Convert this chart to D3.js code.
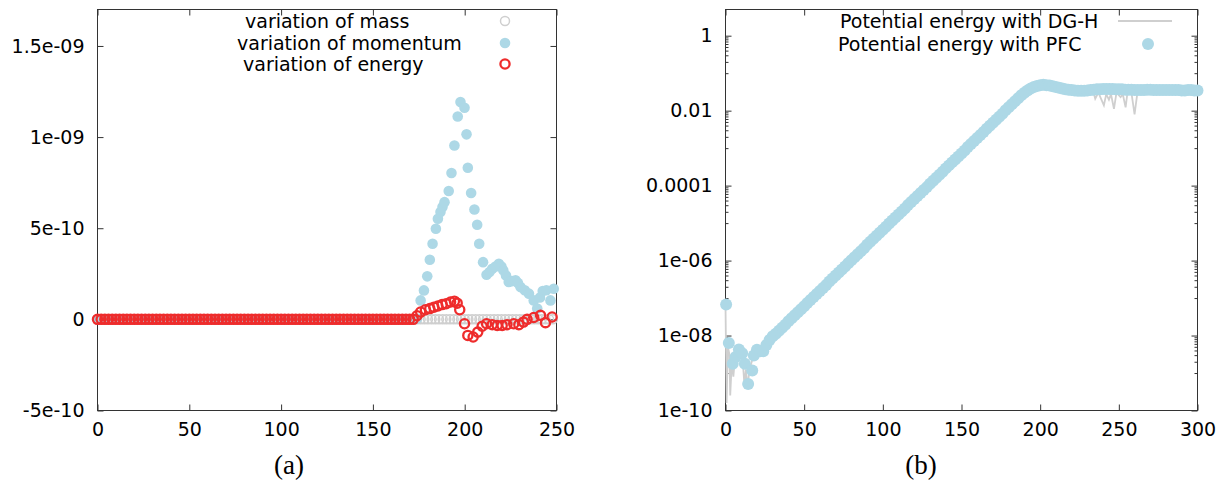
<!DOCTYPE html>
<html><head><meta charset="utf-8">
<script src="https://cdn.jsdelivr.net/npm/d3@7"></script>
<style>
body{margin:0;background:#fff}
svg{display:block}
text{font-family:"DejaVu Sans",Verdana,sans-serif;fill:#000}
</style>
</head><body>
<svg id="c" width="1221" height="491"></svg>
<script>
// ---------------- Panel (a) data ----------------
const flatTime = [0,2,4,6,8,10,12,14,16,18,20,22,24,26,28,30,32,34,36,38,40,42,44,46,48,50,52,54,56,58,60,62,64,66,68,70,72,74,76,78,80,82,84,86,88,90,92,94,96,98,100,102,104,106,108,110,112,114,116,118,120,122,124,126,128,130,132,134,136,138,140,142,144,146,148,150,152,154,156,158,160,162,164,166,168,170,172];
const massTime = flatTime.concat([174,176,178,180,182,184,186,188,190,192,194,196,198,200,202,204,206,208,210,212,214,216,218,220,222,224,226,228,230,232,234,236,238,240,242,244,246,248]);
const massValue = massTime.map(() => 0);

const momentumTail = [174,176,177.8,179.6,181,182.5,184.3,185.4,186.8,187.9,189,191.3,192.8,194.4,196.2,197.7,199.9,201,201.7,203.5,205.3,206.8,207.9,210,211.9,213.5,215,216.8,218.6,220,221,222.5,224,225.8,227.7,229,230.4,232.7,235,237.6,239.5,241,242.5,244.5,246.7,248.5];
const momentumTailValue = [0.05e-10,1.04e-10,1.59e-10,2.36e-10,3.27e-10,4.15e-10,4.97e-10,5.52e-10,5.89e-10,6.16e-10,6.43e-10,7.04e-10,8.03e-10,9.54e-10,11.13e-10,11.92e-10,11.61e-10,10.15e-10,8.32e-10,6.93e-10,6.03e-10,5.19e-10,4.15e-10,3.14e-10,2.45e-10,2.6e-10,2.78e-10,2.9e-10,3.05e-10,2.9e-10,2.69e-10,2.4e-10,2.05e-10,2.1e-10,2.14e-10,2.0e-10,1.77e-10,1.6e-10,1.41e-10,1.04e-10,0.59e-10,1.2e-10,1.55e-10,1.6e-10,1.04e-10,1.68e-10];
const momentumTime = flatTime.concat(momentumTail);
const momentumValue = flatTime.map(() => 0).concat(momentumTailValue);

const energyTail = [174,176,178.6,181,183.2,185.4,187.7,189.9,192.3,194.4,195.9,197.3,199.9,201.7,204.6,207.1,209.5,211.9,215,217.7,220.4,223,226.7,229.5,232,234,237.6,241.3,244,247.6];
const energyTailValue = [0.2e-10,0.4e-10,0.53e-10,0.59e-10,0.67e-10,0.73e-10,0.81e-10,0.86e-10,0.95e-10,1.0e-10,0.89e-10,0.53e-10,-0.24e-10,-0.88e-10,-0.97e-10,-0.7e-10,-0.38e-10,-0.24e-10,-0.29e-10,-0.33e-10,-0.33e-10,-0.29e-10,-0.24e-10,-0.29e-10,-0.15e-10,0,0.1e-10,0.22e-10,-0.18e-10,0.13e-10];
const energyTime = flatTime.concat(energyTail);
const energyValue = flatTime.map(() => 0).concat(energyTailValue);

const aXTicks = [0,50,100,150,200,250];
const aYTicks = [-5e-10,0,5e-10,1e-9,1.5e-9];
const aYLabels = ["-5e-10","0","5e-10","1e-09","1.5e-09"];
const aLegend = ["variation of mass","variation of momentum","variation of energy"];

// ---------------- Panel (b) data ----------------
const pfcTime = [0.4,2.1,4.6,6.4,8.5,10.6,12.3,14.4,17,18,20,22,24,26,28,30,32,
34,36,38,40,42,44,46,48,50,52,54,56,58,60,62,64,66,68,70,72,74,76,78,80,82,84,86,88,90,92,94,96,98,100,
102,104,106,108,110,112,114,116,118,120,122,124,126,128,130,132,134,136,138,140,142,144,146,148,150,152,154,156,158,160,162,164,166,168,170,172,174,176,178,180,182,184,186,188,190,192,194,196,198,200,
202,204,206,208,210,212,214,216,218,220,222,224,226,228,230,232,234,236,238,240,242,244,246,248,250,252,254,256,258,260,262,264,266,268,270,272,274,276,278,280,282,284,286,288,290,292,294,296,298,300];
const pfcLog10 = [-7.17,-8.2,-8.75,-8.57,-8.37,-8.47,-8.75,-9.29,-8.93,-8.53,-8.38,-8.42,-8.42,-8.25,-8.12,-8.02,-7.95,
-7.87,-7.79,-7.71,-7.62,-7.54,-7.46,-7.38,-7.30,-7.22,-7.13,-7.05,-6.97,-6.89,-6.81,-6.73,-6.65,-6.56,-6.48,-6.40,-6.32,-6.24,-6.16,-6.07,-5.99,-5.91,-5.83,-5.75,-5.67,-5.58,-5.50,-5.42,-5.34,-5.26,-5.18,
-5.10,-5.01,-4.93,-4.85,-4.77,-4.69,-4.61,-4.52,-4.44,-4.36,-4.28,-4.20,-4.12,-4.04,-3.95,-3.87,-3.79,-3.71,-3.63,-3.54,-3.46,-3.38,-3.30,-3.22,-3.14,-3.06,-2.97,-2.89,-2.81,-2.73,-2.65,-2.57,-2.48,-2.40,-2.32,-2.24,-2.16,-2.08,-1.99,-1.91,-1.83,-1.75,-1.67,-1.59,-1.52,-1.46,-1.41,-1.37,-1.34,-1.32,
-1.31,-1.32,-1.33,-1.35,-1.37,-1.39,-1.41,-1.43,-1.44,-1.45,-1.46,-1.47,-1.47,-1.47,-1.46,-1.45,-1.44,-1.43,-1.43,-1.42,-1.42,-1.42,-1.42,-1.43,-1.43,-1.43,-1.44,-1.44,-1.44,-1.45,-1.45,-1.45,-1.45,-1.44,-1.44,-1.45,-1.45,-1.45,-1.45,-1.45,-1.45,-1.45,-1.45,-1.45,-1.46,-1.46,-1.45,-1.45,-1.46,-1.46];

const dghTime = [0,0.7,1.5,2.5,3,4,5,6,7,8,
9,10,11,12,13,14,15,16,18,20,
22,24,26,28,30,32,
40,50,60,70,80,90,100,110,120,130,
140,150,160,170,180,
184,188,192,196,200,204,208,212,216,220,
224,228,232,
234,235,237,240.5,242,243.7,245,246.9,248.5,251.1,
252.5,254.3,255.3,256.4,258,260,261.7,263,
270,280,290,300];
const dghLog10 = [-7.2,-9.8,-8.3,-8.5,-9.6,-8.7,-9.1,-8.6,-8.5,-8.4,
-8.6,-8.5,-8.7,-9.3,-8.9,-9.4,-9.0,-8.8,-8.5,-8.4,
-8.45,-8.35,-8.2,-8.1,-8.0,-7.93,
-7.62,-7.22,-6.81,-6.40,-5.99,-5.58,-5.18,-4.77,-4.36,-3.95,
-3.54,-3.14,-2.73,-2.32,-1.91,
-1.75,-1.59,-1.46,-1.37,-1.32,-1.32,-1.35,-1.39,-1.43,-1.45,
-1.47,-1.47,-1.45,
-1.52,-1.68,-1.52,-1.86,-1.56,-1.71,-1.56,-1.95,-1.52,-1.64,
-1.56,-1.91,-1.58,-1.55,-1.52,-2.10,-1.55,-1.45,
-1.44,-1.45,-1.46,-1.46];

const bXTicks = [0,50,100,150,200,250,300];
const bYTicks = [1e-10,1e-8,1e-6,1e-4,1e-2,1];
const bYLabels = ["1e-10","1e-08","1e-06","0.0001","0.01","1"];
const bLegend = ["Potential energy with DG-H","Potential energy with PFC"];
const captions = ["(a)","(b)"];

// ---------------- drawing ----------------
const svg = d3.select('#c');
const BLUE = '#add8e6', RED = '#ee2c2c', GRAY = '#cfcfcf', FRAME = '#333';
const FS = 19;

function frame(g, x, y, xTicks, yMajor, yLabels, yMinor) {
  const [x0,x1] = x.range(), [y0,y1] = y.range();
  const ab = g.append('g').attr('transform',`translate(0,${y0})`)
    .call(d3.axisBottom(x).tickValues(xTicks).tickSize(-6).tickSizeOuter(0).tickPadding(12).tickFormat(d3.format('d')));
  const at = g.append('g').attr('transform',`translate(0,${y1})`)
    .call(d3.axisTop(x).tickValues(xTicks).tickSize(-6).tickSizeOuter(0).tickFormat(''));
  const al = g.append('g').attr('transform',`translate(${x0},0)`)
    .call(d3.axisLeft(y).tickValues(yMajor).tickSize(-6).tickSizeOuter(0).tickPadding(13).tickFormat((d,i)=>yLabels[i]));
  const ar = g.append('g').attr('transform',`translate(${x1},0)`)
    .call(d3.axisRight(y).tickValues(yMajor).tickSize(-6).tickSizeOuter(0).tickFormat(''));
  [ab,at,al,ar].forEach(a=>{
    a.select('.domain').remove();
    a.selectAll('.tick line').attr('stroke',FRAME);
    a.selectAll('text').style('font-size',FS+'px').attr('fill','#000').style('font-family','"DejaVu Sans",Verdana,sans-serif');
  });
  ab.selectAll('text').attr('dy','0.71em');
  if (yMinor) {
    const ml = g.append('g').attr('transform',`translate(${x0},0)`)
      .call(d3.axisLeft(y).tickValues(yMinor).tickSize(-3).tickSizeOuter(0).tickFormat(''));
    const mr = g.append('g').attr('transform',`translate(${x1},0)`)
      .call(d3.axisRight(y).tickValues(yMinor).tickSize(-3).tickSizeOuter(0).tickFormat(''));
    [ml,mr].forEach(a=>{a.select('.domain').remove(); a.selectAll('.tick line').attr('stroke',FRAME);});
  }
  g.append('rect').attr('x',x0).attr('y',y1).attr('width',x1-x0).attr('height',y0-y1)
    .attr('fill','none').attr('stroke',FRAME).attr('stroke-width',1);
}

// ----- panel (a)
const xA = d3.scaleLinear().domain([0,250]).range([97.5,556.5]);
const yA = d3.scaleLinear().domain([-5e-10,1.7e-9]).range([410.5,9.5]);
const gA = svg.append('g');
frame(gA, xA, yA, aXTicks, aYTicks, aYLabels, null);

const massPts = massTime.map((t,i)=>[t,massValue[i]]);
const momPts = momentumTime.map((t,i)=>[t,momentumValue[i]]);
const enPts = energyTime.map((t,i)=>[t,energyValue[i]]);

gA.append('g').selectAll('circle').data(massPts).join('circle')
  .attr('cx',d=>xA(d[0])).attr('cy',d=>yA(d[1])).attr('r',4.5)
  .attr('fill','none').attr('stroke',GRAY).attr('stroke-width',1.5);
gA.append('g').selectAll('circle').data(momPts).join('circle')
  .attr('cx',d=>xA(d[0])).attr('cy',d=>yA(d[1])).attr('r',5.3)
  .attr('fill',BLUE);
gA.append('g').selectAll('circle').data(enPts).join('circle')
  .attr('cx',d=>xA(d[0])).attr('cy',d=>yA(d[1])).attr('r',4.6)
  .attr('fill','none').attr('stroke',RED).attr('stroke-width',2.3);

// legend (a)
const legA = [{x:245,y:21},{x:237,y:43},{x:243,y:64}];
aLegend.forEach((s,i)=>{
  gA.append('text').attr('x',legA[i].x).attr('y',legA[i].y).attr('dy','0.35em').style('font-size',FS+'px').text(s);
});
gA.append('circle').attr('cx',505).attr('cy',legA[0].y).attr('r',4.5).attr('fill','none').attr('stroke',GRAY).attr('stroke-width',1.5);
gA.append('circle').attr('cx',505).attr('cy',legA[1].y).attr('r',5.3).attr('fill',BLUE);
gA.append('circle').attr('cx',505).attr('cy',legA[2].y).attr('r',4.6).attr('fill','none').attr('stroke',RED).attr('stroke-width',2.3);

// ----- panel (b)
const xB = d3.scaleLinear().domain([0,300]).range([725.5,1197.5]);
const yB = d3.scaleLog().domain([1e-10,5]).range([410.5,9.5]);
const bMinor = [];
[-9,-7,-5,-3,-1].forEach(e=>{ for(let m=1;m<=9;m++){ const v=m*Math.pow(10,e); if(v<5) bMinor.push(v);} });
const gB = svg.append('g');
frame(gB, xB, yB, bXTicks, bYTicks, bYLabels, bMinor);

const dghPts = dghTime.map((t,i)=>[t,Math.pow(10,dghLog10[i])]);
const pfcPts = pfcTime.map((t,i)=>[t,Math.pow(10,pfcLog10[i])]);
gB.append('path').datum(dghPts)
  .attr('d',d3.line().x(d=>xB(d[0])).y(d=>yB(d[1])))
  .attr('fill','none').attr('stroke',GRAY).attr('stroke-width',1.8);
gB.append('g').selectAll('circle').data(pfcPts).join('circle')
  .attr('cx',d=>xB(d[0])).attr('cy',d=>yB(d[1])).attr('r',6).attr('fill',BLUE);

const legB = [{x:840,y:21},{x:838,y:44}];
bLegend.forEach((s,i)=>{
  gB.append('text').attr('x',legB[i].x).attr('y',legB[i].y).attr('dy','0.35em').style('font-size',FS+'px').text(s);
});
gB.append('line').attr('x1',1118).attr('x2',1172).attr('y1',legB[0].y).attr('y2',legB[0].y).attr('stroke',GRAY).attr('stroke-width',1.8);
gB.append('circle').attr('cx',1148).attr('cy',legB[1].y).attr('r',6).attr('fill',BLUE);

// captions
svg.append('text').attr('x',289).attr('y',474).attr('text-anchor','middle')
  .style('font-family','"Liberation Serif","DejaVu Serif",serif').style('font-size','27px').text(captions[0]);
svg.append('text').attr('x',921).attr('y',474).attr('text-anchor','middle')
  .style('font-family','"Liberation Serif","DejaVu Serif",serif').style('font-size','27px').text(captions[1]);
</script>
</body></html>
